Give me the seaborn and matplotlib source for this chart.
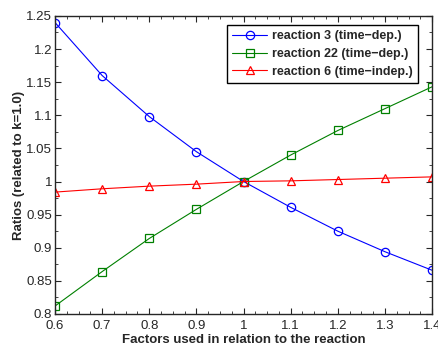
import numpy as np
import pandas as pd
import matplotlib
matplotlib.use("Agg")
import matplotlib.pyplot as plt
import seaborn as sns
from matplotlib.ticker import MultipleLocator

factors = [0.6, 0.7, 0.8, 0.9, 1.0, 1.1, 1.2, 1.3, 1.4]
reaction3 = [1.240, 1.160, 1.098, 1.045, 1.000, 0.961, 0.925, 0.894, 0.866]
reaction22 = [0.812, 0.864, 0.914, 0.958, 1.000, 1.040, 1.077, 1.110, 1.143]
reaction6 = [0.984, 0.989, 0.993, 0.996, 1.000, 1.001, 1.003, 1.005, 1.007]

labels = ["reaction 3 (time\u2212dep.)", "reaction 22 (time\u2212dep.)", "reaction 6 (time\u2212indep.)"]
colors = ["#0000ff", "#008000", "#ff0000"]
markers = ["o", "s", "^"]

df = pd.DataFrame({
    "factor": factors * 3,
    "ratio": reaction3 + reaction22 + reaction6,
    "series": [labels[0]] * 9 + [labels[1]] * 9 + [labels[2]] * 9,
})

sns.set_style("ticks")
plt.rcParams['font.family'] = ['Liberation Sans', 'DejaVu Sans']

fig = plt.figure(figsize=(4.39, 3.45), dpi=100)
ax = fig.add_axes([0.1253, 0.0899, 0.859, 0.864])

for lab, c, m in zip(labels, colors, markers):
    sub = df[df["series"] == lab]
    sns.lineplot(data=sub, x="factor", y="ratio", ax=ax, color=c, marker=m,
                 markersize=6 if m != "s" else 5.5, markerfacecolor="none", markeredgecolor=c,
                 markeredgewidth=0.9, linewidth=0.8, label=lab)

ax.set_xlim(0.6, 1.4)
ax.set_ylim(0.8, 1.25)
ax.xaxis.set_minor_locator(MultipleLocator(0.025))
ax.yaxis.set_minor_locator(MultipleLocator(0.025))
ax.set_xticks(factors)
ax.set_xticklabels(["0.6", "0.7", "0.8", "0.9", "1", "1.1", "1.2", "1.3", "1.4"])
ax.set_yticks([0.8, 0.85, 0.9, 0.95, 1.0, 1.05, 1.1, 1.15, 1.2, 1.25])
ax.set_yticklabels(["0.8", "0.85", "0.9", "0.95", "1", "1.05", "1.1", "1.15", "1.2", "1.25"])
ax.tick_params(which="both", direction="in", top=True, right=True, labelsize=9.5)
ax.tick_params(axis="x", pad=4)
ax.tick_params(axis="y", pad=2)
ax.tick_params(which="major", length=4)
ax.tick_params(which="minor", length=2)
for s in ax.spines.values():
    s.set_linewidth(1.0)
    s.set_visible(True)

ax.set_xlabel("Factors used in relation to the reaction", fontsize=9.5, fontweight="bold", labelpad=1.5)
ax.set_ylabel("Ratios (related to k=1.0)", fontsize=9.5, fontweight="bold", labelpad=1)

leg = ax.legend(loc="upper right", bbox_to_anchor=(0.963, 0.970), borderaxespad=0,
                prop={"weight": "bold", "size": 9}, fancybox=False,
                edgecolor="black", framealpha=1, borderpad=0.45, labelspacing=0.45,
                handlelength=2.8, handletextpad=0.35)
leg.get_frame().set_linewidth(1.0)

fig.savefig("out.png", dpi=100)
